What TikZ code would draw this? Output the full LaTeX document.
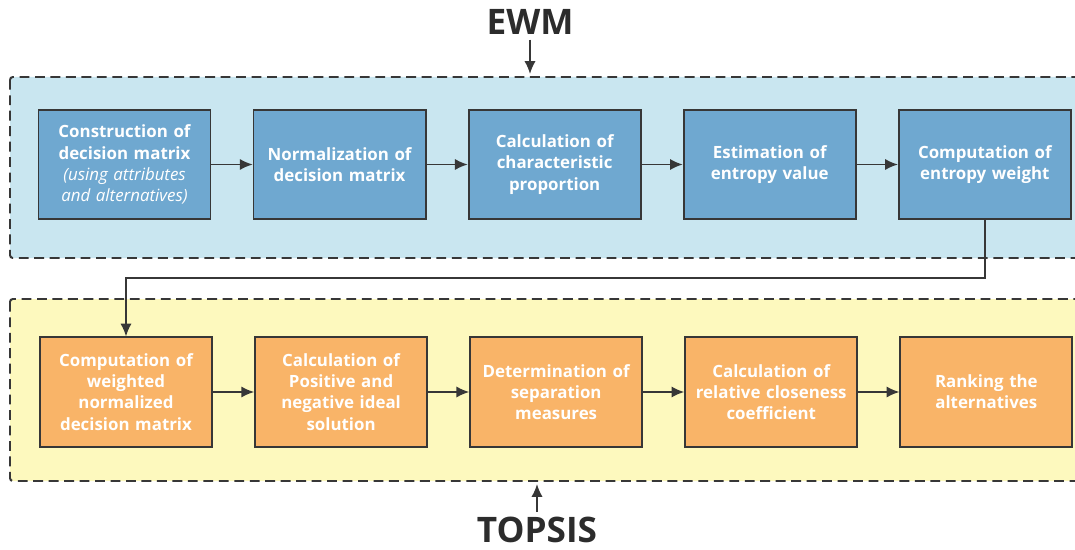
\documentclass[tikz,border=0pt]{standalone}
\usepackage{fontspec}
\setmainfont{Open Sans}
\usetikzlibrary{positioning,arrows.meta}
\definecolor{ewmback}{RGB}{201,230,240}
\definecolor{ewmblue}{RGB}{111,168,208}
\definecolor{topback}{RGB}{253,249,190}
\definecolor{toporange}{RGB}{249,180,104}
\definecolor{edge}{RGB}{55,55,55}
\tikzset{
  >={Latex[length=3.2mm,width=2.8mm]},
}
\tikzstyle{group}=[draw=edge,line width=1.4pt,dash pattern=on 7pt off 4pt,rounded corners=2pt]
\tikzstyle{stage}=[draw=edge,line width=1.3pt,minimum width=4.3cm,minimum height=2.73cm,text width=4cm,align=center,text=white,font=\fontsize{12}{15}\selectfont\bfseries]
\tikzstyle{ewmstage}=[stage,fill=ewmblue]
\tikzstyle{topstage}=[stage,fill=toporange]
\tikzstyle{flow}=[line width=1.2pt,edge,->]
\tikzstyle{title}=[font=\fontsize{25}{30}\selectfont\bfseries,text=edge!80!black]

\begin{document}
\begin{tikzpicture}[x=0.025cm,y=-0.025cm]
    \useasboundingbox (0,0) rectangle (1075,550);
    \clip (0,0) rectangle (1075,550);
    % groups
    \draw[group,fill=ewmback] (10,77) rectangle (1095,258);
    \draw[group,fill=topback] (10,299) rectangle (1095,481);
    % EWM steps
    \node[ewmstage] (e1) at (124.5,164.5) {Construction of\\ decision matrix\\ {\mdseries\itshape (using attributes\\ and alternatives)}};
    \node[ewmstage,right=1.03cm of e1] (e2) {Normalization of\\ decision matrix};
    \node[ewmstage,right=1.03cm of e2] (e3) {Calculation of\\ characteristic\\ proportion};
    \node[ewmstage,right=1.03cm of e3] (e4) {Estimation of\\ entropy value};
    \node[ewmstage,right=1.03cm of e4] (e5) {Computation of\\ entropy weight};
    % TOPSIS steps
    \node[topstage] (t1) at (126,392) {Computation of\\ weighted\\ normalized\\ decision matrix};
    \node[topstage,right=1.03cm of t1] (t2) {Calculation of\\ Positive and\\ negative ideal\\ solution};
    \node[topstage,right=1.03cm of t2] (t3) {Determination of\\ separation\\ measures};
    \node[topstage,right=1.03cm of t3] (t4) {Calculation of\\ relative closeness\\ coefficient};
    \node[topstage,right=1.03cm of t4] (t5) {Ranking the\\ alternatives};
    % flow
    \foreach \a/\b in {e1/e2,e2/e3,e3/e4,e4/e5,t1/t2,t2/t3,t3/t4,t4/t5}
      \draw[flow] (\a) -- (\b);
    \coordinate (turn) at (e5.south |- 0,278);
    \draw[flow] (e5.south) -- (turn) -| (t1.north);
    % titles
    \node[title] (ewm) at (530,22) {EWM};
    \coordinate (ewmin) at (530,74);
    \draw[flow] (ewm.south) -- (ewmin);
    \node[title] (topsis) at (537,530) {TOPSIS};
    \coordinate (topsisin) at (537,484);
    \draw[flow] (topsis.north) -- (topsisin);
\end{tikzpicture}
\end{document}
